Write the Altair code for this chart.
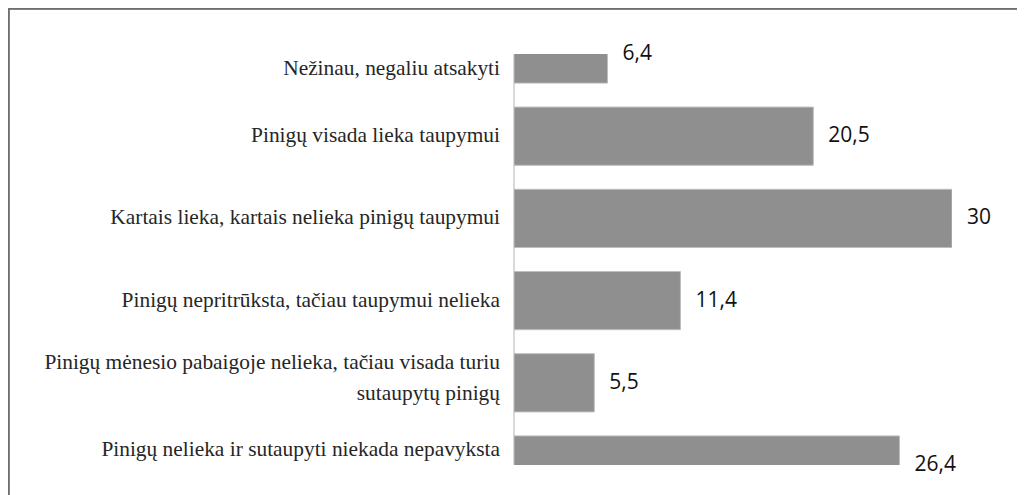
import altair as alt
import pandas as pd

categories = [
    "Nežinau, negaliu atsakyti",
    "Pinigų visada lieka taupymui",
    "Kartais lieka, kartais nelieka pinigų taupymui",
    "Pinigų nepritrūksta, tačiau taupymui nelieka",
    "Pinigų mėnesio pabaigoje nelieka, tačiau visada turiu\nsutaupytų pinigų",
    "Pinigų nelieka ir sutaupyti niekada nepavyksta",
]
values = [6.4, 20.5, 30, 11.4, 5.5, 26.4]
positions = [0, 1, 2, 3, 4, 5]

df = pd.DataFrame({"cat": categories, "value": values, "pos": positions})

HALF = 0.354
W, H = 438, 411

xs = alt.Scale(domain=[0, 30], nice=False, zero=True)
ys = alt.Scale(domain=[0, 5], nice=False, zero=False, reverse=True)

base = alt.Chart(df).transform_calculate(
    y0="datum.pos - %f" % HALF,
    y1="datum.pos + %f" % HALF,
    nl="length(split(datum.cat, '\\n'))",
    lab="replace(toString(datum.value), '.', ',')",
).transform_calculate(
    ylab="(max(datum.pos - %f, 0) + min(datum.pos + %f, 5)) / 2 - (datum.nl - 1) * 0.244" % (HALF, HALF),
)

bars = base.mark_bar(color="#8f8f8f", stroke="#bdbdbd", strokeWidth=1, clip=True).encode(
    x=alt.X("value:Q", scale=xs, axis=None),
    x2=alt.datum(0),
    y=alt.Y("y0:Q", scale=ys, axis=None),
    y2="y1:Q",
)

vals = base.mark_text(align="left", baseline="middle", dx=15, font="Open Sans",
                      fontSize=21, color="#111111").encode(
    x=alt.X("value:Q", scale=xs, axis=None),
    y=alt.Y("pos:Q", scale=ys, axis=None),
    text="lab:N",
)

cats = base.mark_text(align="right", baseline="middle", font="Liberation Serif",
                      fontSize=21.4, color="#262626", lineBreak="\n", lineHeight=31).encode(
    x=alt.value(-14),
    y=alt.Y("ylab:Q", scale=ys, axis=None),
    text="cat:N",
)

axis_line = alt.Chart(df).mark_rule(color="#d9d9d9", strokeWidth=2).encode(
    x=alt.value(0), y=alt.value(0), y2=alt.value(H)
)

frame_top = alt.Chart(df).mark_rule(color="#6e6e6e", strokeWidth=1.5).encode(
    x=alt.value(-506), x2=alt.value(503), y=alt.value(-45.5)
)
frame_left = alt.Chart(df).mark_rule(color="#6e6e6e", strokeWidth=1.5).encode(
    x=alt.value(-505.5), y=alt.value(-46), y2=alt.value(441)
)

chart = alt.layer(frame_top, frame_left, axis_line, bars, vals, cats).properties(
    width=W, height=H,
    background="white",
    autosize=alt.AutoSizeParams(type="none"),
    padding={"left": 506, "top": 46, "right": 65, "bottom": 30},
).configure_view(strokeWidth=0, stroke="transparent")

chart.save("out.html", embed_options={"renderer": "svg", "actions": False})
